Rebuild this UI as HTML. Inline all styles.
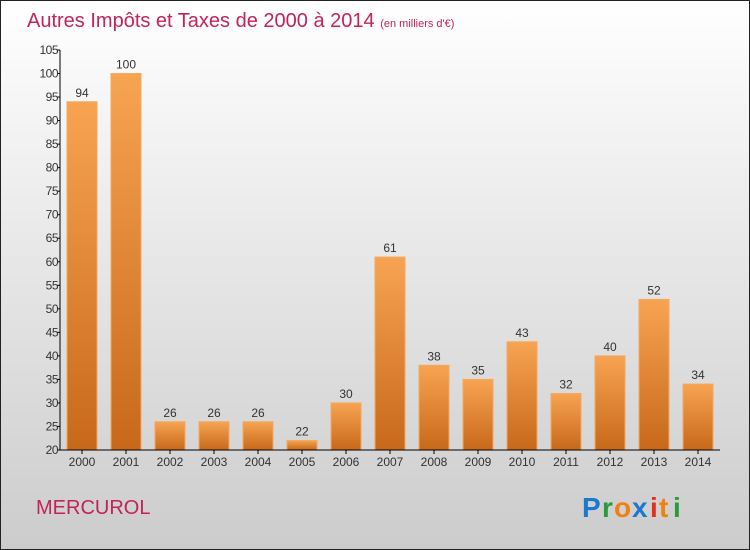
<!DOCTYPE html>
<html><head><meta charset="utf-8"><style>
body{margin:0}
#c{width:750px;height:550px;position:relative;overflow:hidden}
</style></head><body>
<div id="c">
<svg width="750" height="550" xmlns="http://www.w3.org/2000/svg" id="svg">
<defs>
<linearGradient id="bg" x1="0" y1="0" x2="0" y2="1"><stop offset="0" stop-color="#ffffff"/><stop offset="1" stop-color="#cccccc"/></linearGradient>
<linearGradient id="bar" x1="0" y1="0" x2="0" y2="1"><stop offset="0" stop-color="#f7a452"/><stop offset="1" stop-color="#c8681a"/></linearGradient>
</defs>
<rect x="0.5" y="0.5" width="749" height="549" fill="url(#bg)" stroke="#222"/>
<text x="27" y="27" font-family="Liberation Sans, sans-serif" font-size="20" fill="#c0245a">Autres Impôts et Taxes de 2000 à 2014 <tspan font-size="11">(en milliers d'€)</tspan></text>
<text x="36" y="514" font-family="Liberation Sans, sans-serif" font-size="20" fill="#c0245a">MERCUROL</text>
<g id="plot"></g>
<g font-family="Liberation Sans, sans-serif" font-size="28" font-weight="bold">
<text x="582" y="517" fill="#1a78d0">P</text><text x="602" y="517" fill="#2a9a3a">r</text><text x="614" y="517" fill="#f08010">o</text><text x="632" y="517" fill="#1a78d0">x</text><text x="650" y="517" fill="#e03020">i</text><text x="659" y="517" fill="#f08010">t</text><text x="673" y="517" fill="#2a9a3a">i</text>
</g>
</svg>
</div>
<script>
const years=["2000","2001","2002","2003","2004","2005","2006","2007","2008","2009","2010","2011","2012","2013","2014"];
const values=[94,100,26,26,26,22,30,61,38,35,43,32,40,52,34];
const yTicks=[20,25,30,35,40,45,50,55,60,65,70,75,80,85,90,95,100,105];
const NS="http://www.w3.org/2000/svg";
const g=document.getElementById('plot');
const x0=60,x1=720,yTop=50,yBot=450,vMin=20,vMax=105;
const slot=(x1-x0)/years.length;
function yS(v){return yBot-(v-vMin)/(vMax-vMin)*(yBot-yTop);}
function xS(i){return x0+slot*(i+0.5);}
function mk(t,a,txt){const e=document.createElementNS(NS,t);for(const k in a)e.setAttribute(k,a[k]);if(txt!=null)e.textContent=txt;g.appendChild(e);return e;}
const F="Liberation Sans, sans-serif";
values.forEach((v,i)=>{
 const r=mk('rect',{x:xS(i)-15,y:yS(v),width:30,height:yBot-yS(v),fill:'url(#bar)',stroke:'#f4a860','stroke-width':1});
 
 
 const t=mk('text',{x:xS(i),y:yS(v)-5,'text-anchor':'middle','font-family':F,'font-size':12,fill:'#333'},String(v));
 
 
 const xl=mk('text',{x:xS(i),y:yBot+16,'text-anchor':'middle','font-family':F,'font-size':12,fill:'#333'},years[i]);
 
 
 mk('line',{x1:xS(i),x2:xS(i),y1:yBot,y2:yBot+4,stroke:'#000'});
});
yTicks.forEach(v=>{
 mk('line',{x1:x0-3,x2:x0,y1:yS(v),y2:yS(v),stroke:'#000'});
 const t=mk('text',{x:x0-2,y:yS(v)+4,'text-anchor':'end','font-family':F,'font-size':12,fill:'#333','letter-spacing':'-0.5'},String(v));
 
 
});
const ya=mk('line',{x1:x0,x2:x0,y1:yTop,y2:yBot,stroke:'#000'});


const xa=mk('line',{x1:x0,x2:x1,y1:yBot,y2:yBot,stroke:'#000'});


</script>
</body></html>
